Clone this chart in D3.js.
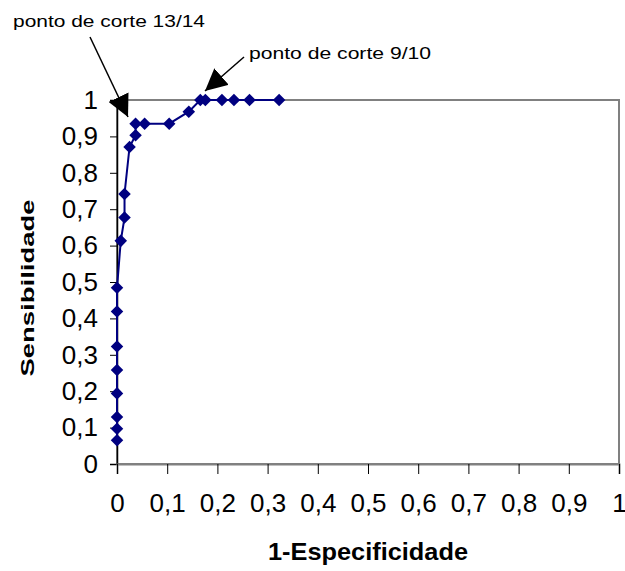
<!DOCTYPE html>
<html>
<head>
<meta charset="utf-8">
<script src="https://cdn.jsdelivr.net/npm/d3@7"></script>
<style>
  body { margin: 0; background: #fff; }
  text { font-family: "Liberation Sans", Arial, sans-serif; }
</style>
</head>
<body>
<div id="chart"></div>
<script>
// ROC curve points (1-especificidade, sensibilidade)
var fpr  = [0, 0, 0, 0, 0, 0, 0, 0, 0.0075, 0.015, 0.015, 0.025, 0.037, 0.037, 0.055, 0.104, 0.143, 0.166, 0.176, 0.209, 0.233, 0.264, 0.323];
var sens = [0.065, 0.097, 0.129, 0.194, 0.258, 0.323, 0.419, 0.484, 0.613, 0.677, 0.742, 0.871, 0.903, 0.935, 0.935, 0.935, 0.968, 1, 1, 1, 1, 1, 1];
var ticks = [0, 0.1, 0.2, 0.3, 0.4, 0.5, 0.6, 0.7, 0.8, 0.9, 1];

var width = 625, height = 571;
var margin = {top: 100, right: 6, bottom: 107, left: 117};

var svg = d3.select("#chart").append("svg")
    .attr("width", width)
    .attr("height", height);

var x = d3.scaleLinear().domain([0, 1]).range([margin.left, width - margin.right]);
var y = d3.scaleLinear().domain([0, 1]).range([height - margin.bottom, margin.top]);

var fmt = function(d) { return String(d).replace(".", ","); };

// plot border (gray)
svg.append("rect")
    .attr("x", x(0))
    .attr("y", y(1))
    .attr("width", x(1) - x(0))
    .attr("height", y(0) - y(1))
    .style("fill", "none")
    .style("stroke", "#808080")
    .style("stroke-width", 2);

// y axis
var yAxis = svg.append("g")
    .attr("transform", "translate(" + x(0) + ",0)")
    .call(d3.axisLeft(y).tickValues(ticks).tickFormat(fmt).tickSize(7).tickPadding(12));
yAxis.select(".domain").style("stroke", "#000").style("stroke-width", 1.5);
yAxis.selectAll(".tick line").style("stroke", "#000");
yAxis.selectAll("text").style("font-size", "26px").style("fill", "#000")
    .style("font-family", "'Liberation Sans', Arial, sans-serif");

// x axis
var xAxis = svg.append("g")
    .attr("transform", "translate(0," + y(0) + ")")
    .call(d3.axisBottom(x).tickValues(ticks).tickFormat(fmt).tickSize(10).tickPadding(20));
xAxis.select(".domain").style("stroke", "#808080").style("stroke-width", 2);
xAxis.selectAll(".tick line").style("stroke", "#000");
xAxis.selectAll("text").style("font-size", "26px").style("fill", "#000")
    .style("font-family", "'Liberation Sans', Arial, sans-serif");

// axis titles
svg.append("text")
    .attr("x", 368)
    .attr("y", 560)
    .style("text-anchor", "middle")
    .style("font-size", "24px")
    .style("font-weight", "bold")
    .attr("textLength", 200)
    .attr("lengthAdjust", "spacingAndGlyphs")
    .text("1-Especificidade");

svg.append("text")
    .attr("transform", "translate(34,288) rotate(-90)")
    .style("text-anchor", "middle")
    .style("font-size", "18px")
    .style("font-weight", "bold")
    .attr("textLength", 177)
    .attr("lengthAdjust", "spacingAndGlyphs")
    .text("Sensibilidade");

// curve
var pts = fpr.map(function(d, i) { return [d, sens[i]]; });
svg.append("path")
    .datum(pts)
    .attr("d", d3.line().x(function(d) { return x(d[0]); }).y(function(d) { return y(d[1]); }))
    .style("fill", "none")
    .style("stroke", "#000080")
    .style("stroke-width", 2);

svg.selectAll(".pt")
    .data(pts)
    .enter().append("path")
    .attr("class", "pt")
    .attr("transform", function(d) { return "translate(" + x(d[0]) + "," + y(d[1]) + ")"; })
    .attr("d", d3.symbol().type(d3.symbolDiamond2).size(100))
    .style("fill", "#000080");

// annotations with arrows
svg.append("defs").append("marker")
    .attr("id", "head")
    .attr("viewBox", "0 0 10 10")
    .attr("refX", 10)
    .attr("refY", 5)
    .attr("markerWidth", 22)
    .attr("markerHeight", 22)
    .attr("markerUnits", "userSpaceOnUse")
    .attr("orient", "auto")
    .append("path")
    .attr("d", "M0,0 L10,5 L0,10 z")
    .style("fill", "#000");

svg.append("line")
    .attr("x1", 90).attr("y1", 37)
    .attr("x2", 128).attr("y2", 117)
    .style("stroke", "#000")
    .style("stroke-width", 1.5)
    .attr("marker-end", "url(#head)");

svg.append("line")
    .attr("x1", 244).attr("y1", 57)
    .attr("x2", 205).attr("y2", 91)
    .style("stroke", "#000")
    .style("stroke-width", 1.5)
    .attr("marker-end", "url(#head)");

svg.append("text")
    .attr("x", 13)
    .attr("y", 27)
    .style("font-size", "17px")
    .attr("textLength", 192)
    .attr("lengthAdjust", "spacingAndGlyphs")
    .text("ponto de corte 13/14");

svg.append("text")
    .attr("x", 249)
    .attr("y", 59)
    .style("font-size", "17px")
    .attr("textLength", 182)
    .attr("lengthAdjust", "spacingAndGlyphs")
    .text("ponto de corte 9/10");
</script>
</body>
</html>
